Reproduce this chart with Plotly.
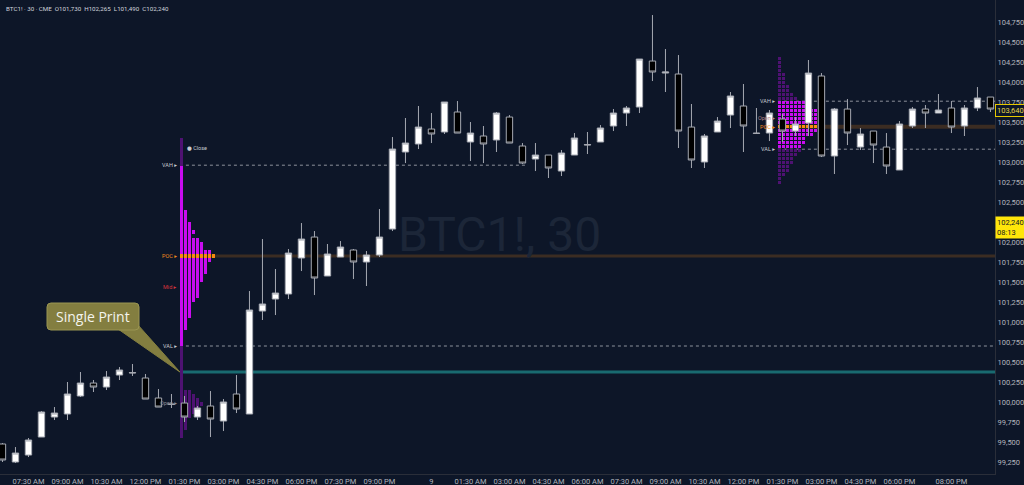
import plotly.graph_objects as go

# ---------------- data ----------------
bar_index = list(range(77))
opens = [99475, 99250, 99337, 99562, 99812, 99850, 100075, 100237, 100187, 100337,
         100362, 100300, 100050, 99975, 99987, 99812, 99950, 99762, 100100, 99850,
         101137, 101287, 101350, 101800, 102062, 101575, 101812, 101900, 101750, 101837,
         102162, 103125, 103225, 103412, 103375, 103625, 103250, 103325, 103275, 103562,
         103200, 103037, 103087, 102887, 103087, 103212, 103250, 103450, 103612, 103687,
         104262, 104112, 104100, 103437, 103000, 103375, 103587, 103700, 103362, 103362,
         103537, 103387, 103487, 104075, 103075, 103662, 103187, 103387, 103187, 102900,
         103450, 103662, 103612, 103675, 103450, 103675, 103812]
highs = [99487, 99437, 99550, 99887, 99937, 100250, 100375, 100275, 100387, 100437,
         100475, 100350, 100162, 100100, 100075, 99950, 100137, 100037, 100337, 101387,
         102037, 101662, 101912, 102237, 102137, 101975, 102012, 101912, 101887, 102412,
         103312, 103550, 103700, 103612, 103750, 103762, 103500, 103450, 103625, 103587,
         103237, 103237, 103087, 103150, 103362, 103375, 103462, 103662, 103700, 104287,
         104837, 104412, 104337, 103725, 103350, 103562, 103875, 103975, 103675, 103650,
         103600, 103562, 104275, 104112, 103675, 103787, 103425, 103387, 103362, 103512,
         103687, 103712, 103850, 103762, 103712, 103937, 103812]
lows = [99250, 99237, 99312, 99562, 99775, 99775, 100062, 100125, 100150, 100275,
        100325, 100037, 99937, 99925, 99750, 99775, 99562, 99637, 99862, 99850,
        101025, 101087, 101287, 101637, 101337, 101575, 101812, 101537, 101450, 101812,
        102137, 102987, 103162, 103237, 103350, 103362, 103012, 102987, 103125, 103237,
        102975, 102887, 102800, 102825, 103087, 103100, 103250, 103387, 103450, 103612,
        104012, 103875, 103175, 102925, 102925, 103375, 103425, 103125, 103362, 103262,
        103250, 103325, 103325, 103062, 102850, 103212, 103150, 102987, 102850, 102900,
        103425, 103425, 103612, 103362, 103325, 103637, 103625]
closes = [99275, 99362, 99525, 99875, 99862, 100100, 100237, 100187, 100312, 100400,
          100367, 100037, 99937, 99970, 99812, 99925, 99787, 100000, 99912, 101150,
          101225, 101362, 101862, 102037, 101550, 101850, 101937, 101750, 101837, 102062,
          103162, 103237, 103437, 103350, 103750, 103362, 103362, 103225, 103612, 103237,
          102987, 103087, 102925, 103112, 103300, 103217, 103425, 103612, 103675, 104287,
          104125, 104125, 103387, 103025, 103325, 103512, 103825, 103450, 103357, 103612,
          103387, 103475, 104112, 103075, 103662, 103362, 103350, 103212, 102950, 103475,
          103662, 103612, 103650, 103437, 103675, 103800, 103662]

x_tick_pos = [2, 5, 8, 11, 14, 17, 20, 23, 26, 29, 33, 36, 39, 42, 45, 48, 51, 54,
              57, 60, 63, 66, 69, 73]
x_tick_text = ["07:30 AM", "09:00 AM", "10:30 AM", "12:00 PM", "01:30 PM", "03:00 PM",
               "04:30 PM", "06:00 PM", "07:30 PM", "09:00 PM", "9", "01:30 AM",
               "03:00 AM", "04:30 AM", "06:00 AM", "07:30 AM", "09:00 AM", "10:30 AM",
               "12:00 PM", "01:30 PM", "03:00 PM", "04:30 PM", "06:00 PM", "08:00 PM"]
y_tick_vals = list(range(99250, 105001, 250))

# volume profile 1 (session starting bar 14)
p1_start_bar = 14
p1_top_price = 103275
p1_widths = [1, 1, 1, 1, 1, 1, 1,
             1, 1, 1, 1, 1, 1, 1, 1, 1, 1, 1,
             2, 2, 2, 3, 3, 4, 3, 5, 6, 6, 8, 9, 8, 7, 7, 7, 6, 6,
             5, 5, 5, 5, 4, 3, 3, 3, 3, 2, 2, 2,
             1, 1, 1, 1, 1, 1, 1, 1, 1, 1, 1, 1, 1, 1, 1,
             3, 4, 5, 6, 5, 4, 3, 2, 2, 2, 1, 1]
p1_vah, p1_poc, p1_val = 102960, 101825, 100700
p1_mid, p1_close, p1_open = 101440, 103175, 99987
p1_vah_end_bar = 40.3
single_print = 100375

# volume profile 2 (session starting bar 60)
p2_start_bar = 60
p2_top_price = 104290
p2_widths = [1, 1, 1, 1, 2, 2, 2, 3, 3, 4, 5, 7, 8, 10, 10, 10, 10, 10, 10, 9,
             7, 7, 6, 6, 5, 4, 4, 3, 3, 2, 1, 1]
p2_vah, p2_poc, p2_val, p2_open = 103760, 103440, 103160, 103550

row_step = 50
header_text = "BTC1! · 30 · CME  O101,730  H102,265  L101,490  C102,240"
last_price_label = "103,640"
current_price = 102240
current_label = "102,240<br>08:13"
last_price = 103640

# ---------------- styling / geometry ----------------
BG = "#0d1628"
X_RANGE = [-0.19, 76.35]
Y_RANGE = [99100, 105025]
PLOT_W, PLOT_H = 995, 474
BAR_PER_PX = (X_RANGE[1] - X_RANGE[0]) / PLOT_W
PRICE_PER_PX = (Y_RANGE[1] - Y_RANGE[0]) / PLOT_H
CELL_W = 4 * BAR_PER_PX
PROFILE_OFFSET = -0.35

MAGENTA = "#c90cf0"
DARK = "#4e1272"
ORANGE = "#f98a10"


def profile_cells(start_bar, top_price, widths, vah, val, poc):
    x0 = start_bar + PROFILE_OFFSET
    ys, bases, cols = [], [], []
    for k, w in enumerate(widths):
        p = top_price - row_step * k
        if abs(p - poc) < row_step / 2:
            c = ORANGE
        elif p > vah or p < val:
            c = DARK
        else:
            c = MAGENTA
        for j in range(w):
            ys.append(p)
            bases.append(x0 + j * CELL_W)
            cols.append(c)
    return ys, bases, cols


fig = go.Figure()

for (sb, tp, wd, vah, val, poc) in [
        (p1_start_bar, p1_top_price, p1_widths, p1_vah, p1_val, p1_poc),
        (p2_start_bar, p2_top_price, p2_widths, p2_vah, p2_val, p2_poc)]:
    ys, bases, cols = profile_cells(sb, tp, wd, vah, val, poc)
    fig.add_trace(go.Bar(
        orientation="h", y=ys, base=bases, x=[CELL_W * 0.8] * len(ys),
        width=[row_step * 0.78] * len(ys),
        marker=dict(color=cols, line=dict(width=0)),
        hoverinfo="skip"))

fig.add_trace(go.Candlestick(
    x=bar_index, open=opens, high=highs, low=lows, close=closes,
    increasing=dict(fillcolor="#ffffff", line=dict(color="#a6a9b2", width=1)),
    decreasing=dict(fillcolor="#000000", line=dict(color="#a6a9b2", width=1)),
    whiskerwidth=0, hoverinfo="skip"))

p1_x0 = p1_start_bar + PROFILE_OFFSET
p2_x0 = p2_start_bar + PROFILE_OFFSET
xmax = X_RANGE[1]

shapes = [
    dict(type="line", x0=p1_x0, x1=xmax, y0=p1_poc, y1=p1_poc,
         line=dict(color="#3b2c22", width=3), layer="below"),
    dict(type="line", x0=p1_x0, x1=xmax, y0=single_print, y1=single_print,
         line=dict(color="#196a70", width=3), layer="below"),
    dict(type="line", x0=p1_x0, x1=p1_vah_end_bar, y0=p1_vah, y1=p1_vah,
         line=dict(color="#8d929c", width=1, dash="dot"), layer="below"),
    dict(type="line", x0=p1_x0, x1=xmax, y0=p1_val, y1=p1_val,
         line=dict(color="#8d929c", width=1, dash="dot"), layer="below"),
    dict(type="line", x0=p2_x0, x1=xmax, y0=p2_poc, y1=p2_poc,
         line=dict(color="#3b2c22", width=4), layer="below"),
    dict(type="line", x0=p2_x0, x1=xmax, y0=p2_vah, y1=p2_vah,
         line=dict(color="#8d929c", width=1, dash="dot"), layer="below"),
    dict(type="line", x0=p2_x0, x1=xmax, y0=p2_val, y1=p2_val,
         line=dict(color="#8d929c", width=1, dash="dot"), layer="below"),
]


# callout "Single Print" (box position given in pixels, converted to data units)
def dx(px):
    return X_RANGE[0] + px * BAR_PER_PX


def dy(py):
    return Y_RANGE[1] - py * PRICE_PER_PX


L, R, T, B = dx(47), dx(139), dy(303), dy(330)
rx, ry = 4 * BAR_PER_PX, 4 * PRICE_PER_PX
box_path = (f"M {L+rx},{T} L {R-rx},{T} Q {R},{T} {R},{T-ry} L {R},{B+ry} "
            f"Q {R},{B} {R-rx},{B} L {L+rx},{B} Q {L},{B} {L},{B+ry} "
            f"L {L},{T-ry} Q {L},{T} {L+rx},{T} Z")
ptr_path = f"M {dx(118)},{dy(329)} L {dx(138)},{dy(325)} L {p1_x0},{single_print} Z"
OLIVE = "#837e40"
shapes.append(dict(type="path", path=ptr_path, fillcolor=OLIVE,
                   line=dict(color=OLIVE, width=1), layer="above"))
shapes.append(dict(type="path", path=box_path, fillcolor=OLIVE,
                   line=dict(color="#9a9552", width=1), layer="above"))

small = dict(family="Roboto, DejaVu Sans", size=5.5)
ann = []


def lab(x, y, text, color, anchor="right", xs=-1):
    ann.append(dict(x=x, y=y, text=text, showarrow=False, xanchor=anchor,
                    yanchor="middle", xshift=xs,
                    font=dict(small, color=color)))


lab(p1_x0, p1_vah, "VAH ▸", "#c8cad0")
lab(p1_x0, p1_poc, "POC ▸", "#f08a1c")
lab(p1_x0, p1_mid, "Mid ▸", "#d8343c")
lab(p1_x0, p1_val, "VAL ▸", "#c8cad0")
lab(p1_x0, p1_open, "Open ▸", "#8a8e98")
lab(p1_x0 + CELL_W * 1.2, p1_close, "● Close", "#c8cad0", anchor="left", xs=0)
lab(p2_x0, p2_vah, "VAH ▸", "#c8cad0")
lab(p2_x0, p2_open, "Open ▸", "#b0868a")
lab(p2_x0, p2_poc, "POC ▸", "#f08a1c")
lab(p2_x0, p2_val, "VAL ▸", "#c8cad0")

ann.append(dict(x=(L + R) / 2, y=(T + B) / 2, text="Single Print", showarrow=False,
                font=dict(family="Open Sans", size=14, color="#f4f4ee"),
                xanchor="center", yanchor="middle"))
ann.append(dict(xref="paper", yref="paper", x=0.502, y=0.505, text="BTC1!, 30",
                showarrow=False, xanchor="center", yanchor="middle",
                font=dict(family="Roboto", size=48, color="#1c2638")))
ann.append(dict(xref="paper", yref="paper", x=0.004, y=1, yanchor="top",
                xanchor="left", yshift=-3, text=header_text, showarrow=False,
                font=dict(family="Roboto", size=6.2, color="#d1d4dc")))
ann.append(dict(xref="paper", x=1, y=last_price, xanchor="left", yanchor="middle",
                text=last_price_label, showarrow=False, bgcolor=BG,
                bordercolor="#e6c800", borderwidth=1, borderpad=1,
                font=dict(family="Roboto", size=7.5, color="#e8d64a")))
ann.append(dict(xref="paper", x=1, y=current_price, xanchor="left", yanchor="top",
                yshift=7, text=current_label, showarrow=False, bgcolor="#ffe60a",
                borderpad=1, align="left",
                font=dict(family="Roboto", size=7.5, color="#131722")))

fig.update_layout(
    width=1024, height=485,
    margin=dict(l=0, r=29, t=0, b=11),
    paper_bgcolor=BG, plot_bgcolor=BG,
    showlegend=False, barmode="overlay", bargap=0,
    font=dict(family="Roboto", color="#b2b5be", size=8),
    shapes=shapes, annotations=ann,
    xaxis=dict(range=X_RANGE, tickvals=x_tick_pos, ticktext=x_tick_text,
               showgrid=False, zeroline=False, showline=True, linecolor="#2a2e39",
               ticks="", tickfont=dict(size=7.5, color="#b2b5be"),
               rangeslider=dict(visible=False), fixedrange=True),
    yaxis=dict(range=Y_RANGE, side="right", tickvals=y_tick_vals, tickformat=",d",
               showgrid=False, zeroline=False, showline=True, linecolor="#2a2e39",
               ticks="", tickfont=dict(size=7.5, color="#b2b5be"), fixedrange=True),
)

fig.write_html("out.html", config={"displayModeBar": False},
               post_script="document.body.style.margin='0';"
                           "document.body.style.background='" + BG + "';")
